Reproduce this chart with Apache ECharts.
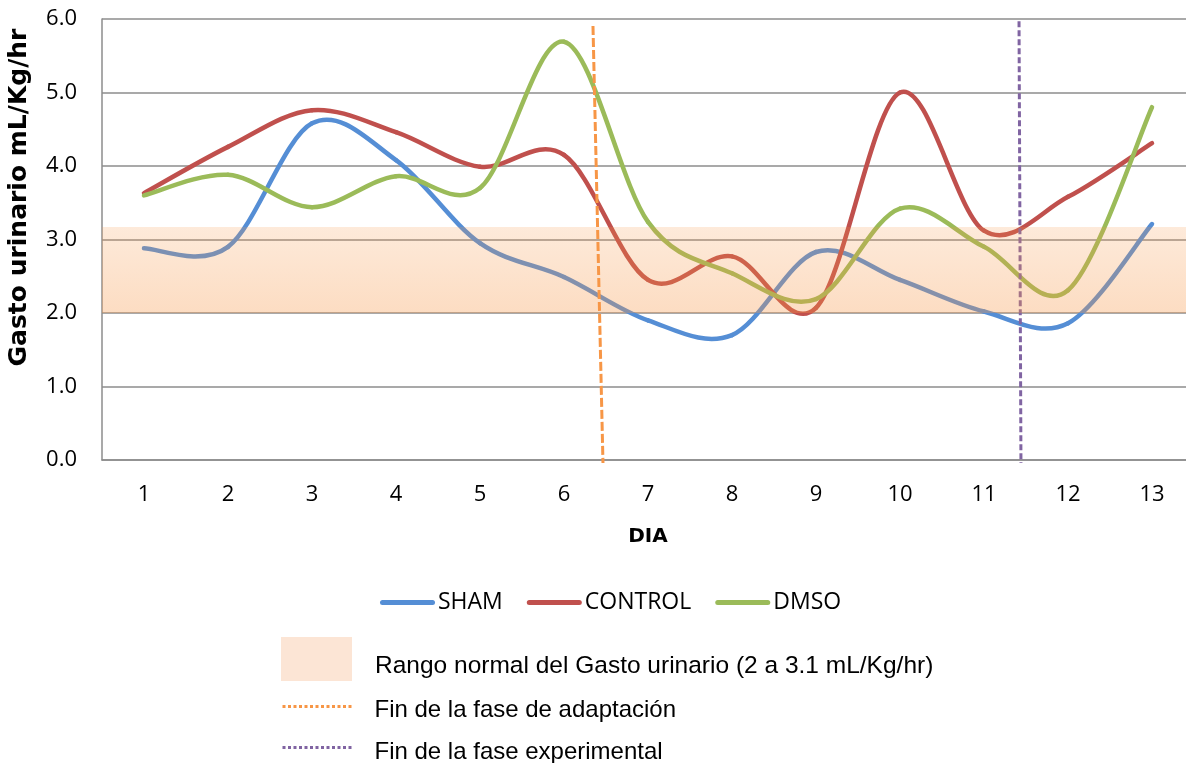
<!DOCTYPE html>
<html>
<head>
<meta charset="utf-8">
<script src="https://cdn.jsdelivr.net/npm/echarts@6/dist/echarts.min.js"></script>
<style>
html,body{margin:0;padding:0;background:#fff;}
#chart{width:1186px;height:763px;}
</style>
</head>
<body>
<div id="chart"></div>
<script>
// ---- data ----
const dias = ['1','2','3','4','5','6','7','8','9','10','11','12','13'];
const sham    = [2.88, 2.90, 4.58, 4.08, 2.95, 2.49, 1.90, 1.70, 2.83, 2.45, 2.02, 1.86, 3.21];
const control = [3.63, 4.26, 4.76, 4.46, 3.99, 4.15, 2.45, 2.77, 2.07, 5.00, 3.12, 3.58, 4.31];
const dmso    = [3.60, 3.88, 3.44, 3.86, 3.70, 5.69, 3.24, 2.54, 2.19, 3.42, 2.90, 2.31, 4.80];
const rangoNormal = [2.0, 3.17];
const finAdaptacion = [[6.345, 5.905], [6.464, -0.04]];
const finExperimental = [[11.417, 5.97], [11.44, -0.04]];
const yTicks = { min: 0, max: 6, interval: 1 };

const nameBand = 'Rango normal del Gasto urinario (2 a 3.1 mL/Kg/hr)';
const nameAdapt = 'Fin de la fase de adaptación';
const nameExp = 'Fin de la fase experimental';

const gridColor = '#8c8c8c';
const fontA = '"Open Sans", Lato, sans-serif';
const fontBold = '"DejaVu Sans", "Open Sans", sans-serif';
const fontB = '"Liberation Sans", Arial, sans-serif';

const chart = echarts.init(document.getElementById('chart'), null, { renderer: 'canvas' });

// Smooth curve (cardinal spline through the data points, as in the spreadsheet chart)
function curveSeries(name, arr, color) {
  const n = arr.length;
  const clampIdx = k => Math.max(0, Math.min(n - 1, k));
  return {
    name, type: 'custom', z: 3,
    data: arr.map((v, i) => [i, v]),
    encode: { x: 0, y: 1 },
    itemStyle: { color },
    renderItem: (params, api) => {
      const i = params.dataIndex;
      if (i >= n - 1) return null;
      const P = k => api.coord([clampIdx(k), arr[clampIdx(k)]]);
      const p0 = P(i - 1), p1 = P(i), p2 = P(i + 1), p3 = P(i + 2);
      const t = 1 / 6;
      return {
        type: 'bezierCurve',
        shape: {
          x1: p1[0], y1: p1[1], x2: p2[0], y2: p2[1],
          cpx1: p1[0] + (p2[0] - p0[0]) * t, cpy1: p1[1] + (p2[1] - p0[1]) * t,
          cpx2: p2[0] - (p3[0] - p1[0]) * t, cpy2: p2[1] - (p3[1] - p1[1]) * t
        },
        style: { stroke: color, lineWidth: 4.5, fill: null, lineCap: 'round' }
      };
    }
  };
}

const roundLineIcon = 'path://M2.5,0L52.5,0A2.5,2.5,0,0,1,52.5,5L2.5,5A2.5,2.5,0,0,1,2.5,0Z';

function legendText(size, padTop) {
  return {
    fontFamily: fontB, fontSize: size, color: '#000',
    rich: { t: { fontFamily: fontB, fontSize: size, color: '#000', padding: [padTop, 0, 0, 0] } }
  };
}

chart.setOption({
  animation: false,
  backgroundColor: '#fff',
  grid: { left: 102, right: -8, top: 19, bottom: 303, outerBoundsMode: 'none', containLabel: false },
  xAxis: [
    {
      type: 'category', data: dias, boundaryGap: true,
      axisTick: { show: false },
      axisLine: { lineStyle: { color: gridColor, width: 1.5 } },
      axisLabel: { fontFamily: fontA, fontSize: 22, color: '#000', margin: 24 },
      name: 'DIA', nameLocation: 'middle', nameGap: 67,
      nameTextStyle: { fontFamily: fontBold, fontSize: 20, fontWeight: 'bold', color: '#000' }
    },
    { type: 'value', min: 0.5, max: 13.5, show: false }
  ],
  yAxis: {
    type: 'value', min: yTicks.min, max: yTicks.max, interval: yTicks.interval,
    axisLine: { show: true, lineStyle: { color: gridColor, width: 1.5 } },
    axisTick: { show: false },
    splitLine: { lineStyle: { color: gridColor, width: 1.5 } },
    axisLabel: { fontFamily: fontA, fontSize: 22, color: '#000', margin: 25,
      formatter: v => v.toFixed(1) },
    name: 'Gasto urinario mL/Kg/hr', nameLocation: 'middle', nameGap: 70, nameRotate: 90,
    nameTextStyle: { fontFamily: fontBold, fontSize: 25, fontWeight: 'bold', color: '#000',
      padding: [0, 0, 0, 84] }
  },
  legend: [
    {
      data: [
        { name: 'SHAM', icon: roundLineIcon },
        { name: 'CONTROL', icon: roundLineIcon },
        { name: 'DMSO', icon: roundLineIcon }
      ],
      left: 380, top: 591, padding: 0, itemWidth: 55, itemHeight: 5, itemGap: 24,
      textStyle: { fontFamily: fontA, fontSize: 23, color: '#000', padding: [0, 0, 0, -2] },
      selectedMode: false
    },
    {
      data: [{ name: nameBand, icon: 'rect', itemStyle: { color: '#fce5d5', opacity: 1 } }],
      left: 281, top: 637, padding: 0, itemWidth: 71, itemHeight: 44,
      formatter: '{t|{name}}',
      textStyle: Object.assign(legendText(24.5, 14), { padding: [0, 0, 0, 18] }),
      selectedMode: false
    },
    {
      data: [nameAdapt],
      left: 281, top: 696, padding: 0, itemWidth: 71, itemHeight: 26,
      formatter: '{t|{name}}',
      textStyle: Object.assign(legendText(24, 7), { padding: [0, 0, 0, 16] }),
      itemStyle: { opacity: 0 },
      lineStyle: { width: 3, type: [3, 2.5], cap: 'butt' },
      selectedMode: false
    },
    {
      data: [nameExp],
      left: 281, top: 737, padding: 0, itemWidth: 71, itemHeight: 26,
      formatter: '{t|{name}}',
      textStyle: Object.assign(legendText(24, 10), { padding: [0, 0, 0, 16] }),
      itemStyle: { opacity: 0 },
      lineStyle: { width: 3, type: [3, 2.5], cap: 'butt' },
      selectedMode: false
    }
  ],
  series: [
    curveSeries('SHAM', sham, '#558ed5'),
    curveSeries('CONTROL', control, '#c0504d'),
    curveSeries('DMSO', dmso, '#9bbb59'),
    {
      name: nameAdapt, type: 'line', xAxisIndex: 1, data: finAdaptacion,
      symbol: 'none', clip: false, z: 4,
      lineStyle: { color: '#f79646', width: 3, type: [9, 3] },
      itemStyle: { color: '#f79646' }
    },
    {
      name: nameExp, type: 'line', xAxisIndex: 1, data: finExperimental,
      symbol: 'none', clip: false, z: 4,
      lineStyle: { color: '#8064a2', width: 3, type: [6, 3] },
      itemStyle: { color: '#8064a2' }
    },
    {
      name: nameBand, type: 'line', data: [], z: 10, silent: true,
      itemStyle: { color: '#fce5d5' },
      markArea: {
        z: 10, silent: true,
        itemStyle: {
          color: {
            type: 'linear', x: 0, y: 0, x2: 0, y2: 1,
            colorStops: [
              { offset: 0, color: 'rgba(247,150,70,0.20)' },
              { offset: 1, color: 'rgba(247,150,70,0.33)' }
            ]
          }
        },
        data: [[{ yAxis: rangoNormal[0] }, { yAxis: rangoNormal[1] }]]
      }
    }
  ]
});
</script>
</body>
</html>
